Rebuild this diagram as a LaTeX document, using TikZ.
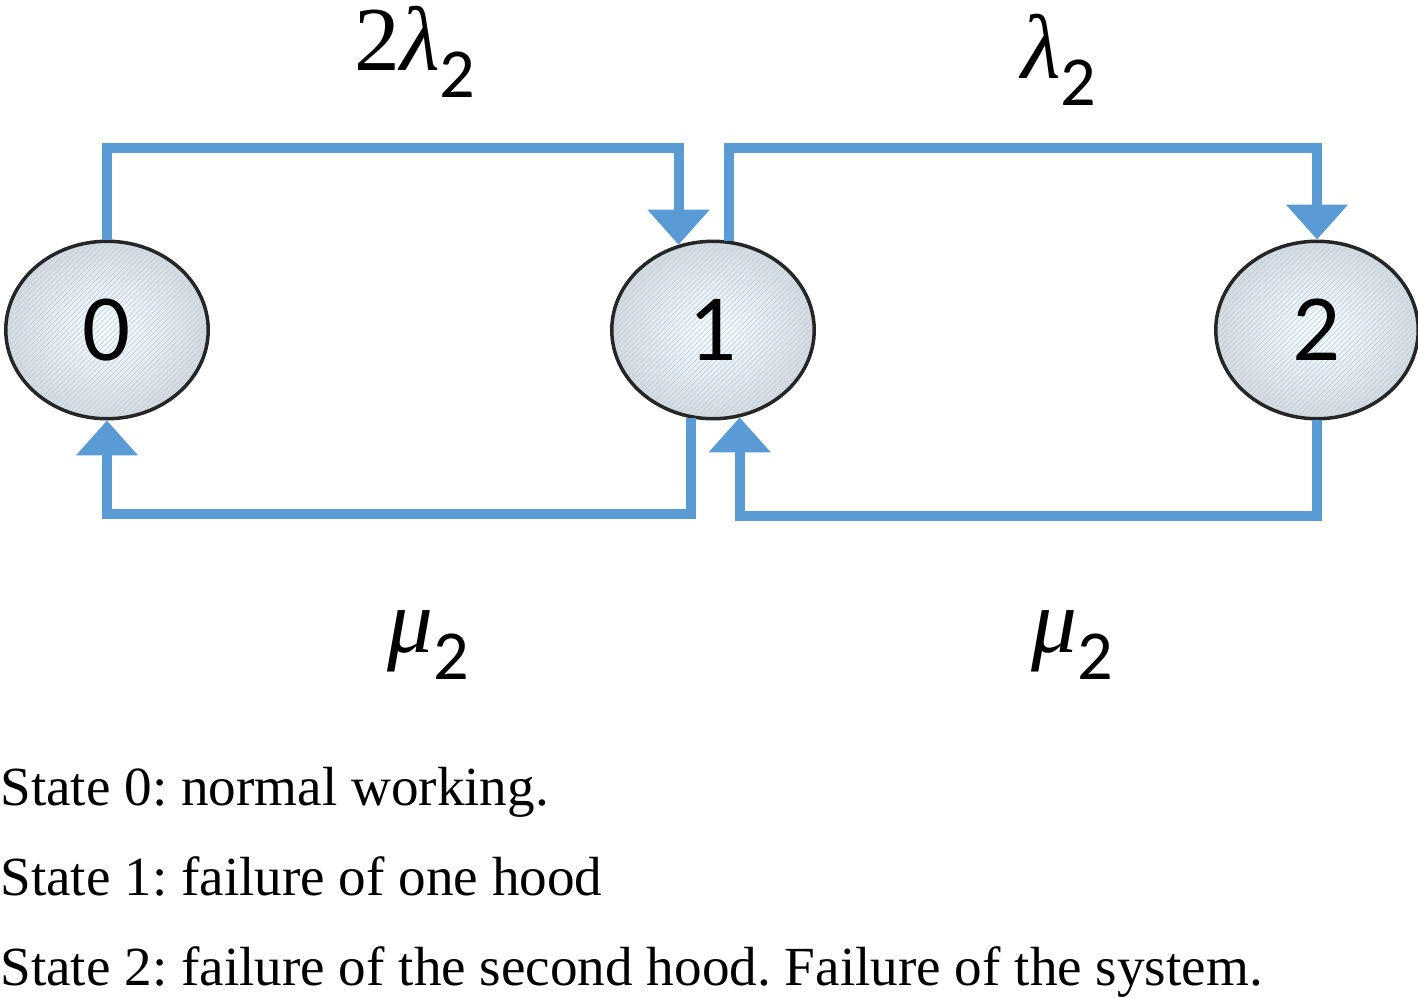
\documentclass[tikz,border=0pt]{standalone}
\usepackage{fontspec}
\setmainfont{Liberation Serif}
\newfontfamily\calib{Carlito}
\usetikzlibrary{arrows.meta, positioning, calc, shapes.geometric, patterns}
\definecolor{flowblue}{RGB}{91,155,213}
\definecolor{stripeblue}{RGB}{175,215,245}
\newcommand{\sub}[1]{\raisebox{-0.3em}{\calib\fontsize{40}{42}\selectfont #1}}
\tikzstyle{state} = [ellipse, draw=black!85, line width=0.07cm, minimum width=4.05cm, minimum height=3.55cm, inner sep=0pt,
  preaction={shade, inner color=white, outer color=gray!30}, pattern=north east lines, pattern color=stripeblue,
  font=\calib\fontsize{54}{60}\selectfont]
\tikzstyle{flow} = [-{Triangle[length=0.7cm, width=1.2cm]}, flowblue, line width=0.2cm]
\tikzstyle{rate} = [inner sep=0pt, font=\fontsize{52}{58}\selectfont]
\tikzstyle{legend} = [anchor=base west, inner sep=0pt, font=\fontsize{31.4}{36}\selectfont]
\frenchspacing

\begin{document}
\begin{tikzpicture}[x=0.02cm, y=-0.02cm]
    \useasboundingbox (0,0) rectangle (1418,998);

    % States
    \node[state] (n0) at (107,330) {0};
    \node[state] (n1) at (713,330) {1};
    \node[state] (n2) at (1317,330) {2};

    % Failures
    \draw[flow] (n0.north) -- ++(0,-92) -| (n1.112);
    \draw[flow] (n1.80) -- ++(0,-93) -| (n2.north);

    % Repairs
    \draw[flow] (n1.-104) -- ++(0,96) -| (n0.south);
    \draw[flow] (n2.south) -- ++(0,96) -| (n1.-73);

    % Rates
    \node[rate] (l1) at (415,52) {2\textit{λ}\sub{2}};
    \node[rate] (l2) at (1059,60) {\textit{λ}\sub{2}};
    \node[rate] (m1) at (428,645) {\textit{μ}\sub{2}};
    \node[rate] (m2) at (1072,645) {\textit{μ}\sub{2}};

    % Legend
    \node[legend] (s0) at (0,805) {State 0: normal working.};
    \node[legend] (s1) at (0,895) {State 1: failure of one hood};
    \node[legend] (s2) at (0,985) {State 2: failure of the second hood. Failure of the system.};
\end{tikzpicture}
\end{document}
